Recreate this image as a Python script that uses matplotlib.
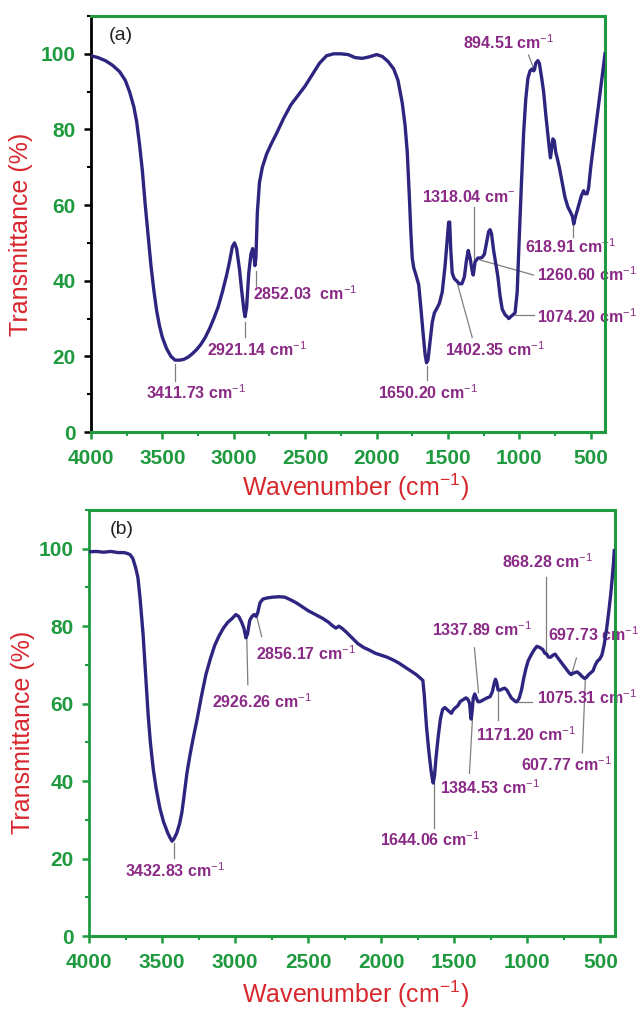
import numpy as np
import matplotlib
matplotlib.use('Agg')
import matplotlib.pyplot as plt
from matplotlib.ticker import MultipleLocator

plt.rcParams['font.family'] = ['Liberation Sans', 'DejaVu Sans']
plt.rcParams['mathtext.fontset'] = 'custom'
plt.rcParams['mathtext.rm'] = 'Liberation Sans'
plt.rcParams['mathtext.it'] = 'Liberation Sans:italic'
plt.rcParams['mathtext.bf'] = 'Liberation Sans:bold'

# ------------------------------------------------------------------
# spectrum (a)
# ------------------------------------------------------------------
wn_a = [4000, 3950, 3900, 3850, 3800, 3760, 3730, 3700, 3680, 3660, 3640,
        3620, 3600, 3580, 3560, 3540, 3520, 3500, 3470, 3440, 3411, 3380,
        3350, 3320, 3290, 3260, 3230, 3200, 3170, 3140, 3110, 3080, 3050,
        3030, 3010, 2995, 2980, 2960, 2945, 2930, 2921, 2910, 2895, 2880,
        2868, 2860, 2852, 2845, 2835, 2820, 2800, 2770, 2740, 2700, 2650,
        2600, 2550, 2500, 2450, 2400, 2350, 2300, 2250, 2200, 2150, 2100,
        2050, 2000, 1960, 1920, 1880, 1850, 1820, 1800, 1785, 1770, 1760,
        1750, 1740, 1720, 1705, 1690, 1675, 1660, 1650, 1640, 1625, 1610,
        1595, 1580, 1560, 1540, 1520, 1505, 1495, 1488, 1480, 1470, 1455,
        1440, 1420, 1402, 1385, 1370, 1358, 1345, 1330, 1323, 1310, 1290,
        1275, 1260, 1245, 1230, 1215, 1205, 1195, 1180, 1165, 1150, 1135,
        1120, 1100, 1085, 1074, 1060, 1045, 1030, 1015, 1000, 985, 970,
        955, 940, 925, 910, 900, 894, 885, 870, 860, 845, 830, 815, 800,
        790, 782, 775, 765, 755, 745, 735, 720, 700, 680, 660, 640, 628,
        619, 610, 595, 580, 565, 550, 540, 525, 515, 500, 480, 460, 440,
        420, 400]
T_a = [99.5, 99.0, 98.2, 97.0, 95.3, 93.0, 90.0, 86.0, 82.0, 76.0, 69.0,
       60.0, 52.0, 44.0, 37.5, 32.0, 28.0, 25.0, 22.0, 20.0, 19.0, 19.0,
       19.2, 19.8, 20.7, 21.8, 23.2, 25.0, 27.3, 30.0, 33.0, 37.0, 41.5,
       45.0, 49.0, 50.0, 48.5, 43.0, 37.5, 32.5, 30.5, 33.0, 42.0, 47.0,
       48.5, 47.0, 44.0, 46.0, 58.0, 66.0, 70.0, 73.5, 76.0, 79.0, 83.0,
       86.5, 89.0, 91.5, 94.5, 97.5, 99.5, 100.0, 100.0, 99.8, 99.0, 98.8,
       99.2, 99.8, 99.3, 98.0, 96.0, 93.0, 87.0, 81.0, 74.0, 62.0, 53.0,
       46.0, 43.5, 41.0, 39.0, 33.0, 26.5, 20.5, 18.3, 19.0, 24.0, 29.0,
       31.5, 32.5, 34.0, 37.0, 44.0, 51.0, 55.5, 55.5, 48.0, 42.0, 40.5,
       40.0, 39.2, 39.2, 41.0, 45.5, 48.0, 46.0, 42.5, 41.5, 45.0, 46.0,
       46.0, 46.2, 47.0, 50.0, 53.0, 53.5, 52.5, 48.0, 44.5, 41.0, 36.0,
       32.5, 31.0, 30.5, 30.0, 30.5, 31.0, 31.5, 37.0, 52.0, 66.0, 79.0,
       88.0, 93.5, 95.5, 96.0, 95.5, 95.8, 97.5, 98.2, 97.5, 94.0, 90.0,
       84.0, 78.5, 75.0, 72.5, 74.5, 77.5, 77.0, 74.0, 72.5, 70.0, 66.0,
       62.0, 59.5, 58.0, 57.0, 55.0, 56.5, 58.5, 60.5, 62.5, 63.8, 63.0,
       63.0, 64.5, 70.0, 76.0, 82.0, 88.0, 94.0, 100.0]

# ------------------------------------------------------------------
# spectrum (b)
# ------------------------------------------------------------------
wn_b = [4000, 3950, 3900, 3850, 3800, 3760, 3740, 3720, 3700, 3680, 3665,
        3650, 3630, 3610, 3595, 3580, 3560, 3540, 3515, 3490, 3460, 3440,
        3432, 3420, 3400, 3380, 3364, 3350, 3330, 3310, 3290, 3260, 3230,
        3200, 3170, 3140, 3110, 3080, 3050, 3020, 2995, 2975, 2955, 2940,
        2926, 2915, 2900, 2885, 2870, 2856, 2845, 2830, 2810, 2780, 2740,
        2700, 2660, 2620, 2580, 2540, 2500, 2450, 2400, 2360, 2330, 2310,
        2290, 2270, 2240, 2200, 2160, 2120, 2080, 2040, 2000, 1960, 1920,
        1880, 1840, 1800, 1760, 1730, 1715, 1705, 1690, 1675, 1660, 1650,
        1644, 1635, 1625, 1610, 1595, 1580, 1565, 1550, 1535, 1520, 1505,
        1490, 1475, 1460, 1440, 1420, 1405, 1395, 1388, 1384, 1378, 1370,
        1360, 1350, 1338, 1325, 1300, 1275, 1255, 1240, 1225, 1218, 1210,
        1200, 1185, 1171, 1155, 1140, 1125, 1110, 1095, 1080, 1070, 1055,
        1040, 1025, 1010, 995, 975, 955, 935, 915, 895, 880, 868, 855, 840,
        825, 810, 795, 775, 755, 735, 715, 700, 690, 675, 660, 645, 625,
        608, 595, 580, 565, 550, 535, 520, 505, 490, 475, 460, 445, 430,
        420, 410, 405]
T_b = [99.2, 99.3, 99.1, 99.3, 99.0, 99.0, 98.8, 98.5, 97.5, 95.0, 92.5,
       87.0, 78.0, 66.0, 57.0, 50.0, 43.0, 38.0, 33.0, 29.5, 26.5, 25.0,
       24.5, 25.0, 26.5, 29.0, 32.0, 36.0, 42.0, 46.5, 50.5, 56.0, 62.0,
       67.5, 71.5, 75.0, 77.5, 79.5, 81.0, 82.0, 83.0, 82.5, 81.0, 79.5,
       77.0, 78.0, 81.5, 82.5, 83.0, 82.5, 83.5, 86.0, 87.0, 87.3, 87.5,
       87.6, 87.5, 86.8, 86.0, 85.0, 84.0, 83.0, 82.0, 81.0, 80.0, 79.5,
       80.0, 79.5, 78.5, 77.0, 75.5, 74.5, 73.8, 73.0, 72.5, 72.0, 71.3,
       70.5, 69.5, 68.5, 67.5, 66.5, 66.0, 62.0, 54.0, 48.0, 43.0, 40.5,
       39.5, 41.5, 46.0, 51.5, 56.0, 58.5, 59.0, 58.5, 58.0, 57.5, 58.5,
       59.0, 59.5, 60.5, 61.0, 61.5, 61.0, 60.0, 57.0, 56.0, 58.0, 61.5,
       62.5, 61.5, 60.5, 60.5, 61.0, 61.5, 61.8, 63.0, 65.5, 66.3, 65.5,
       63.5, 63.5, 63.8, 64.0, 63.5, 62.5, 61.5, 61.0, 60.5, 60.5, 61.5,
       63.5, 66.5, 69.0, 71.0, 72.5, 73.8, 74.8, 74.5, 74.0, 73.0, 72.8,
       72.0, 72.0, 72.5, 72.8, 72.0, 71.0, 70.0, 69.0, 68.0, 67.5, 67.8,
       68.0, 68.2, 67.8, 67.0, 66.5, 66.8, 67.5, 68.0, 68.5, 70.0, 71.0,
       71.5, 72.5, 75.0, 78.5, 83.0, 88.0, 92.0, 96.5, 99.5]

# peak labels: (text, leader start (wn, T), leader end (wn, T), text left (wn, T))
peaks_a = [
    ('3411.73 cm$^{-1}$', (3411, 18.0), (3411, 13.5), (3614, 10.5)),
    ('2921.14 cm$^{-1}$', (2921, 29.0), (2921, 25.0), (3185, 21.7)),
    ('2852.03  cm$^{-1}$', (2845, 42.5), (2845, 38.5), (2868, 36.7)),
    ('1650.20 cm$^{-1}$', (1647, 17.5), (1647, 13.8), (1990, 10.3)),
    ('1402.35 cm$^{-1}$', (1435, 39.4), (1330, 25.0), (1519, 21.7)),
    ('1318.04 cm$^{-}$', (1316, 42.0), (1316, 59.6), (1681, 62.2)),
    ('1260.60 cm$^{-1}$', (1276, 45.5), (900, 41.5), (873, 41.5)),
    ('1074.20 cm$^{-1}$', (1027, 31.0), (900, 31.0), (873, 30.5)),
    ('618.91 cm$^{-1}$', (627, 55.0), (627, 51.6), (957, 49.0)),
    ('894.51 cm$^{-1}$', (900, 96.2), (936, 99.7), (1393, 102.9)),
]
peaks_b = [
    ('3432.83 cm$^{-1}$', (3419, 24.0), (3419, 20.2), (3754, 17.0)),
    ('2926.26 cm$^{-1}$', (2920, 77.3), (2913, 64.9), (3159, 60.5)),
    ('2856.17 cm$^{-1}$', (2852, 82.5), (2818, 77.3), (2858, 73.0)),
    ('1644.06 cm$^{-1}$', (1642, 39.5), (1642, 27.9), (2011, 24.8)),
    ('1384.53 cm$^{-1}$', (1376, 55.8), (1396, 42.0), (1601, 38.2)),
    ('1337.89 cm$^{-1}$', (1334, 62.8), (1362, 74.4), (1655, 79.0)),
    ('1171.20 cm$^{-1}$', (1198, 63.0), (1198, 55.8), (1348, 52.0)),
    ('1075.31 cm$^{-1}$', (1054, 60.5), (965, 60.5), (931, 61.5)),
    ('868.28 cm$^{-1}$', (870, 73.4), (870, 92.8), (1170, 96.6)),
    ('697.73 cm$^{-1}$', (692, 68.2), (664, 71.8), (856, 77.8)),
    ('607.77 cm$^{-1}$', (603, 66.4), (623, 47.3), (1040, 44.2)),
]

GREEN = '#1f9a3f'
RED = '#d7282e'
PURPLE = '#8a2a86'
LINE = '#2e2580'
GREY = '#7f7f7f'

W, H = 643, 1015
fig = plt.figure(figsize=(W / 100, H / 100), dpi=100)
ax_a = fig.add_axes([91 / W, 1 - 432 / H, 514 / W, 416 / H])
ax_b = fig.add_axes([89 / W, 1 - 936 / H, 526 / W, 426 / H])


def style_axes(ax, left_color):
    ax.set_xlim(4000, 400)
    ax.set_ylim(0, 110)
    ax.xaxis.set_major_locator(MultipleLocator(500))
    ax.xaxis.set_minor_locator(MultipleLocator(250))
    ax.yaxis.set_major_locator(MultipleLocator(20))
    ax.yaxis.set_minor_locator(MultipleLocator(10))
    for side in ['top', 'right', 'bottom']:
        ax.spines[side].set_color(GREEN)
        ax.spines[side].set_linewidth(2.2)
    ax.spines['left'].set_color(left_color)
    ax.spines['left'].set_linewidth(2.0)
    ax.tick_params(which='both', direction='out', top=False, right=False)
    ax.tick_params(axis='x', which='major', length=5, width=1.8, color=GREEN,
                   pad=7, labelsize=15, labelcolor=GREEN)
    ax.tick_params(axis='x', which='minor', length=3, width=1.5, color=GREEN)
    ax.tick_params(axis='y', which='major', length=5, width=1.8,
                   color=left_color, pad=6, labelsize=15, labelcolor=GREEN)
    ax.tick_params(axis='y', which='minor', length=3, width=1.5,
                   color=left_color)
    for lab in ax.get_xticklabels() + ax.get_yticklabels():
        lab.set_fontweight('bold')
    ax.set_xlabel('Wavenumber (cm$^{-1}$)', fontsize=18, color=RED)
    ax.set_ylabel('Transmittance (%)', fontsize=18, color=RED)


def label_peaks(ax, peaks, fs):
    for txt, p0, p1, pt in peaks:
        ax.plot([p0[0], p1[0]], [p0[1], p1[1]], color=GREY, lw=0.9,
                zorder=1.5, clip_on=False)
        ax.text(pt[0], pt[1], txt, color=PURPLE, fontsize=fs,
                fontweight='bold', ha='left', va='center', zorder=2,
                clip_on=False)


style_axes(ax_a, 'black')
ax_a.plot(wn_a, T_a, color=LINE, lw=2.4, zorder=3)
label_peaks(ax_a, peaks_a, 11.5)
ax_a.text(3874, 104.8, '(a)', fontsize=14, color='#222222', va='center')
ax_a.xaxis.set_label_coords(0.514, -0.095)
ax_a.yaxis.set_label_coords(-0.113, 0.474)

style_axes(ax_b, GREEN)
ax_b.plot(wn_b, T_b, color=LINE, lw=2.4, zorder=3)
label_peaks(ax_b, peaks_b, 11.5)
ax_b.text(3856, 105.0, '(b)', fontsize=14, color='#222222', va='center')
ax_b.xaxis.set_label_coords(0.506, -0.100)
ax_b.yaxis.set_label_coords(-0.103, 0.477)

fig.savefig('out.png', dpi=100, facecolor='white')
